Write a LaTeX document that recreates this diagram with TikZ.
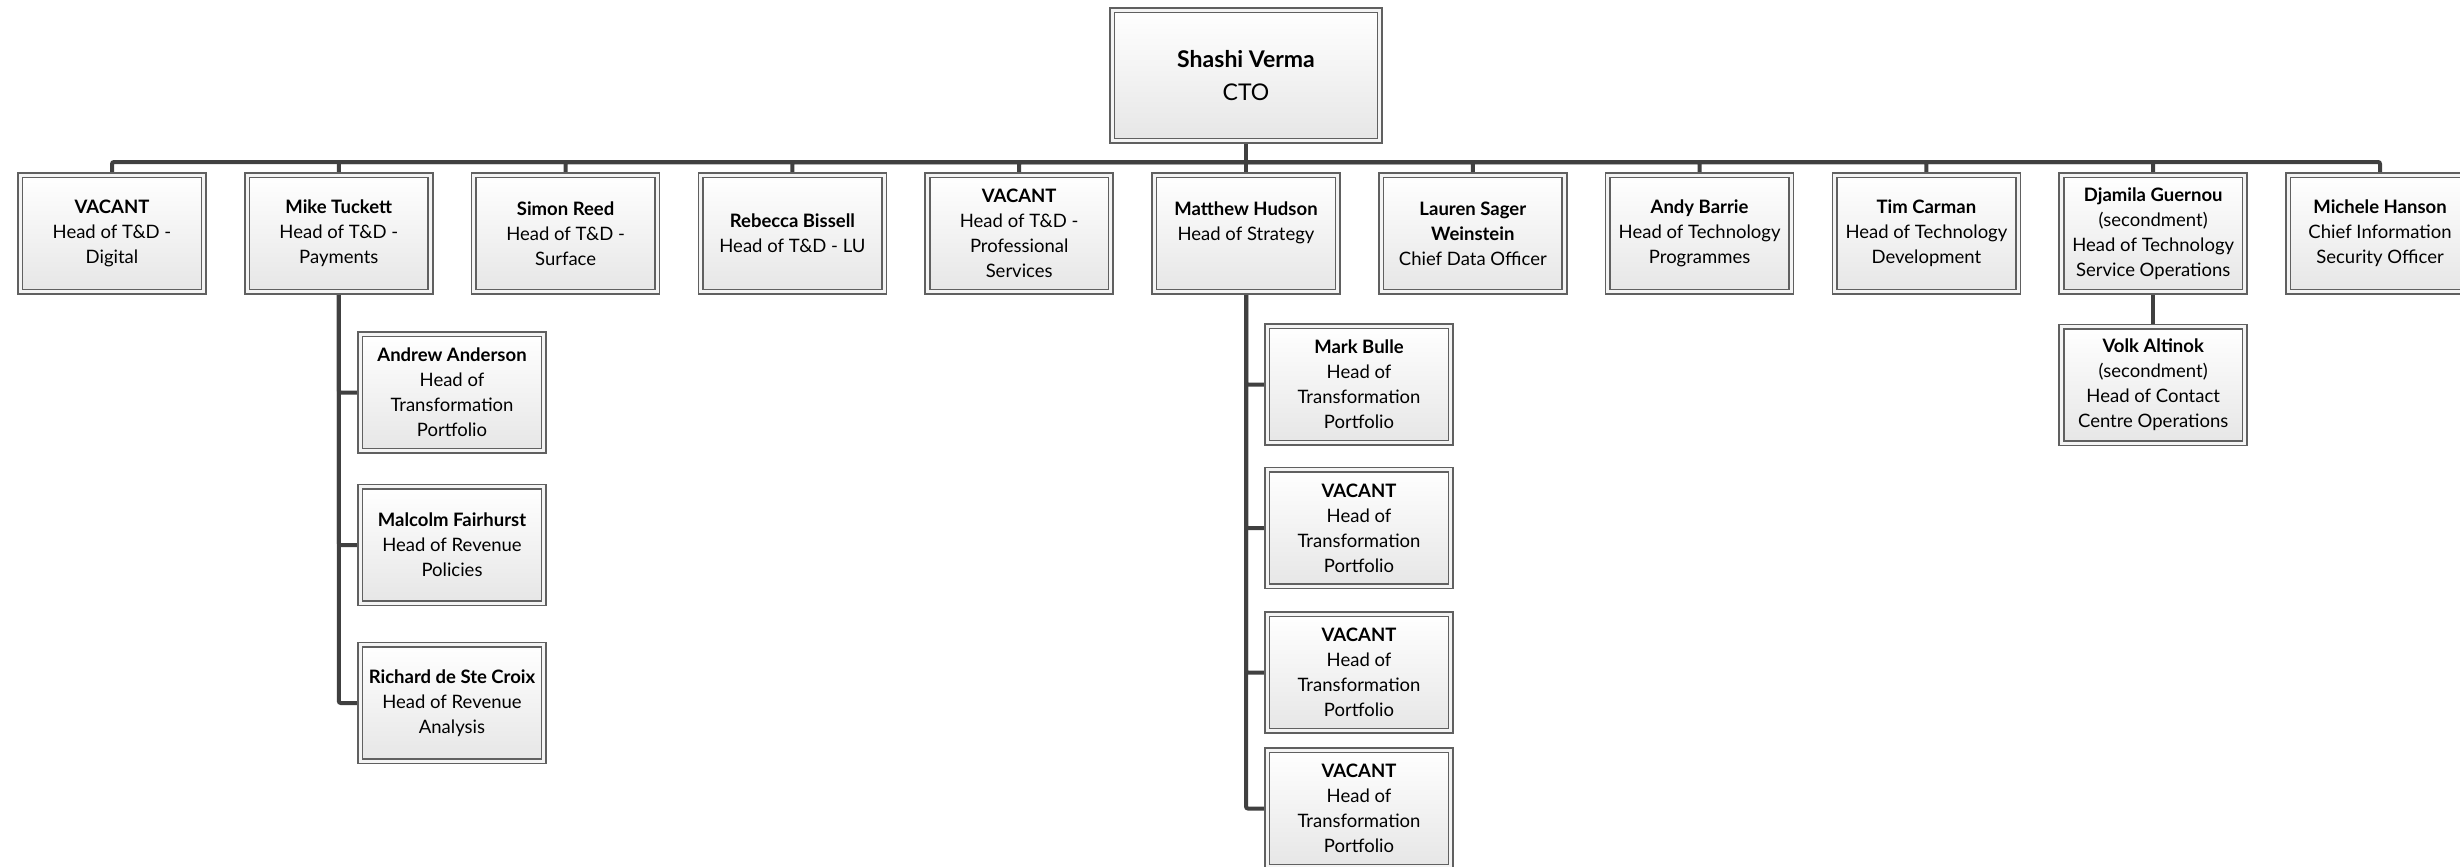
\documentclass[tikz,border=0pt]{standalone}
\usepackage{fontspec}
\setmainfont{Lato}
\usetikzlibrary{shadows,backgrounds}
\definecolor{boxline}{HTML}{606060}
\definecolor{boxgap}{HTML}{F4F4F4}
\definecolor{boxbot}{HTML}{E6E6E6}
\definecolor{linec}{HTML}{404040}
\tikzset{
  box/.style={draw=boxline, double=boxgap, double distance=3pt, line width=1.6pt,
    top color=white, bottom color=boxbot, minimum width=183.5pt, minimum height=116.5pt,
    align=center, inner sep=0pt, font=\fontsize{18.5}{25}\selectfont,
    drop shadow={shadow xshift=3pt, shadow yshift=-3pt, opacity=0.22, fill=black}},
  conn/.style={draw=linec, line width=4pt, rounded corners=2pt}
}
\begin{document}
\begin{tikzpicture}[x=1pt,y=-1pt]
\useasboundingbox (0,0) rectangle (2460,867);
% top
\node[box, minimum width=267.5pt, minimum height=130.5pt, font=\fontsize{23}{33}\selectfont] (cto) at (1246,75.5) {\textbf{Shashi Verma}\\CTO};
% level 1
\node[box] (vac1) at (112,233.5) {\textbf{VACANT}\\Head of T\&D -\\Digital};
\node[box] (mike) at (338.8,233.5) {\textbf{Mike Tuckett}\\Head of T\&D -\\Payments};
\node[box] (simon) at (565.6,233.5) {\textbf{Simon Reed}\\Head of T\&D -\\Surface};
\node[box] (rebecca) at (792.4,233.5) {\textbf{Rebecca Bissell}\\Head of T\&D - LU};
\node[box] (vac2) at (1019.2,233.5) {\textbf{VACANT}\\Head of T\&D -\\Professional\\Services};
\node[box] (matthew) at (1246,233.5) {\textbf{Matthew Hudson}\\Head of Strategy\\\mbox{}};
\node[box] (lauren) at (1472.8,233.5) {\textbf{Lauren Sager}\\\textbf{Weinstein}\\Chief Data Officer};
\node[box] (andy) at (1699.6,233.5) {\textbf{Andy Barrie}\\Head of Technology\\Programmes};
\node[box] (tim) at (1926.4,233.5) {\textbf{Tim Carman}\\Head of Technology\\Development};
\node[box] (djamila) at (2153.2,233.5) {\textbf{Djamila Guernou}\\(secondment)\\Head of Technology\\Service Operations};
\node[box] (michele) at (2380,233.5) {\textbf{Michele Hanson}\\Chief Information\\Security Officer};
% Mike's team
\node[box] (andrew) at (452,392.5) {\textbf{Andrew Anderson}\\Head of\\Transformation\\Portfolio};
\node[box] (malcolm) at (452,545) {\textbf{Malcolm Fairhurst}\\Head of Revenue\\Policies};
\node[box] (richard) at (452,703) {\textbf{Richard de Ste Croix}\\Head of Revenue\\Analysis};
% Matthew's team
\node[box] (mark) at (1359,384.5) {\textbf{Mark Bulle}\\Head of\\Transformation\\Portfolio};
\node[box] (mv1) at (1359,528) {\textbf{VACANT}\\Head of\\Transformation\\Portfolio};
\node[box] (mv2) at (1359,672.5) {\textbf{VACANT}\\Head of\\Transformation\\Portfolio};
\node[box] (mv3) at (1359,808.5) {\textbf{VACANT}\\Head of\\Transformation\\Portfolio};
% Djamila's team
\node[box] (volk) at (2153.2,385) {\textbf{Volk Altinok}\\(secondment)\\Head of Contact\\Centre Operations};
\coordinate (bus) at (1246,162);
\begin{scope}[on background layer]
\fill[white] (0,0) rectangle (2460,867);
\draw[conn] (cto.south) -- (bus);
\foreach \n in {vac1,mike,simon,rebecca,vac2,matthew,lauren,andy,tim,djamila,michele}
  \draw[conn] (bus) -| (\n.north);
\foreach \n in {andrew,malcolm,richard}
  \draw[conn] (mike.south) |- (\n.west);
\foreach \n in {mark,mv1,mv2,mv3}
  \draw[conn] (matthew.south) |- (\n.west);
\draw[conn] (djamila.south) -- (volk.north);
\end{scope}
\end{tikzpicture}
\end{document}
